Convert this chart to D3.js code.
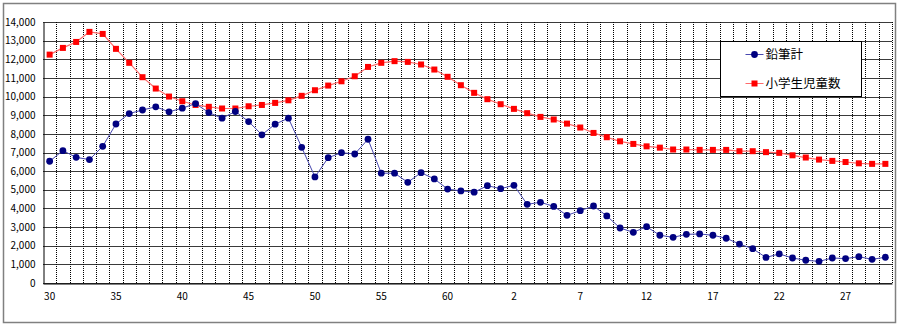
<!DOCTYPE html>
<html>
<head>
<meta charset="utf-8">
<script src="https://cdn.jsdelivr.net/npm/d3@7"></script>
<style>
  body { margin: 0; background: #fff; }
  svg text { font-family: "Noto Sans CJK JP", "DejaVu Sans", sans-serif; }
</style>
</head>
<body>
<svg id="chart" width="900" height="327"></svg>
<script>
// --- DATA ---
// Showa 30 (1955) .. Heisei 30 (2018), one value per year, in thousands
const pencils = [
  6530, 7100, 6740, 6620, 7330, 8530, 9090, 9280, 9450, 9180,
  9380, 9620, 9140, 8840, 9200, 8660, 7950, 8520, 8840, 7280,
  5690, 6720, 6990, 6920, 7710, 5890, 5890, 5400, 5920, 5580,
  5040, 4940, 4870, 5220, 5060, 5240, 4220, 4330, 4110, 3630,
  3880, 4130, 3600, 2950, 2720, 3020, 2560, 2450, 2610, 2630,
  2560, 2400, 2090, 1840, 1370, 1560, 1340, 1220, 1160, 1340,
  1310, 1410, 1270, 1380
];
const pupils = [
  12250, 12610, 12930, 13470, 13360, 12560, 11810, 11040, 10430, 10000,
  9750, 9550, 9450, 9360, 9360, 9480, 9550, 9660, 9800, 10040,
  10340, 10590, 10820, 11090, 11590, 11810, 11900, 11860, 11720, 11450,
  11060, 10610, 10200, 9860, 9590, 9340, 9110, 8910, 8770, 8550,
  8340, 8050, 7820, 7600, 7460, 7330, 7260, 7160, 7160, 7140,
  7140, 7140, 7070, 7070, 7020, 6980, 6850, 6730, 6620, 6550,
  6490, 6420, 6390, 6390
];
const tickLabels = ["30", "35", "40", "45", "50", "55", "60", "2", "7", "12", "17", "22", "27"];
const seriesNames = ["鉛筆計", "小学生児童数"];

// --- SETUP ---
const svg = d3.select("#chart");
const plot = { left: 43, top: 22, right: 892, bottom: 283 };

// outer frame
svg.append("rect")
    .attr("x", 3.5).attr("y", 3.5)
    .attr("width", 892).attr("height", 319)
    .attr("fill", "#fff")
    .attr("stroke", "#808080")
    .attr("stroke-width", 1.5);

const x = d3.scaleBand()
    .domain(d3.range(pencils.length))
    .range([plot.left, plot.right]);
const y = d3.scaleLinear()
    .domain([0, 14000])
    .range([plot.bottom, plot.top]);

// horizontal gridlines
svg.append("g")
    .selectAll("line")
    .data(y.ticks(14))
    .join("line")
    .attr("x1", plot.left).attr("x2", plot.right)
    .attr("y1", d => Math.round(y(d)) + 0.5)
    .attr("y2", d => Math.round(y(d)) + 0.5)
    .attr("stroke", "#3a3a3a")
    .attr("stroke-width", 1);

// vertical dotted gridlines on category boundaries
svg.append("g")
    .selectAll("line")
    .data(d3.range(1, pencils.length + 1))
    .join("line")
    .attr("x1", d => Math.round(x.step() * d + plot.left) + 0.5)
    .attr("x2", d => Math.round(x.step() * d + plot.left) + 0.5)
    .attr("y1", plot.top).attr("y2", plot.bottom)
    .attr("stroke", "#000")
    .attr("stroke-dasharray", "1,1");

// y axis
const yAxis = svg.append("g")
    .attr("transform", `translate(${plot.left + 0.5},0)`)
    .call(d3.axisLeft(y).ticks(14).tickFormat(d3.format(",")).tickSize(0).tickPadding(8));
yAxis.select(".domain").attr("stroke", "#000");
yAxis.selectAll("text").attr("font-size", 10).attr("fill", "#000");

// x axis
const xAxis = svg.append("g")
    .attr("transform", `translate(0,${plot.bottom + 0.5})`)
    .call(d3.axisBottom(x)
        .tickValues(d3.range(0, pencils.length, 5))
        .tickFormat((d, i) => tickLabels[i])
        .tickSize(0).tickPadding(9));
xAxis.select(".domain").attr("stroke", "#000");
xAxis.selectAll("text").attr("font-size", 10).attr("fill", "#000");

// --- SERIES ---
const cx = i => x(i) + x.bandwidth() / 2;
const line = d3.line().x((d, i) => cx(i)).y(d => y(d));

svg.append("path")
    .datum(pupils)
    .attr("d", line)
    .attr("fill", "none")
    .attr("stroke", "#ff6a6a")
    .attr("stroke-width", 1.2);

svg.append("g")
    .selectAll("rect")
    .data(pupils)
    .join("rect")
    .attr("x", (d, i) => cx(i) - 3)
    .attr("y", d => y(d) - 3)
    .attr("width", 6).attr("height", 6)
    .attr("fill", "#ff0000");

svg.append("path")
    .datum(pencils)
    .attr("d", line)
    .attr("fill", "none")
    .attr("stroke", "#4848b0")
    .attr("stroke-width", 1);

svg.append("g")
    .selectAll("circle")
    .data(pencils)
    .join("circle")
    .attr("cx", (d, i) => cx(i))
    .attr("cy", d => y(d))
    .attr("r", 3.4)
    .attr("fill", "#000080");

// --- LEGEND ---
const legend = svg.append("g").attr("transform", "translate(720.5,41.5)");
legend.append("rect")
    .attr("width", 141).attr("height", 55)
    .attr("fill", "#fff")
    .attr("stroke", "#000");

const rows = legend.selectAll("g.row")
    .data(seriesNames)
    .join("g")
    .attr("class", "row")
    .attr("transform", (d, i) => `translate(0,${13 + i * 29})`);

rows.append("line")
    .attr("x1", 25).attr("x2", 43)
    .attr("stroke", (d, i) => i === 0 ? "#4848b0" : "#ff6a6a");
rows.filter((d, i) => i === 0).append("circle")
    .attr("cx", 34).attr("r", 3.4).attr("fill", "#000080");
rows.filter((d, i) => i === 1).append("rect")
    .attr("x", 31).attr("y", -3).attr("width", 6).attr("height", 6)
    .attr("fill", "#ff0000");
rows.append("text")
    .attr("x", 45).attr("dy", "0.35em")
    .attr("font-size", 12.5)
    .attr("fill", "#000")
    .text(d => d);
</script>
</body>
</html>
